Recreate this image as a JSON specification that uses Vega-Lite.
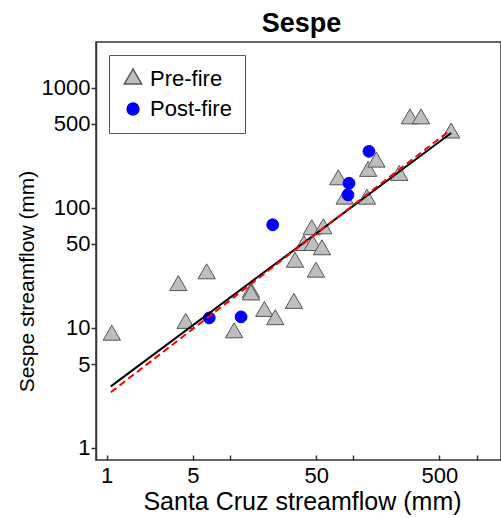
{
  "$schema": "https://vega.github.io/schema/vega-lite/v6.json",
  "autosize": {"type": "none"},
  "width": 405,
  "height": 418,
  "padding": {"left": 96, "top": 42, "right": 0, "bottom": 58},
  "background": "white",
  "title": {"text": "Sespe", "fontSize": 27, "fontWeight": "bold", "font": "Liberation Sans", "color": "black", "anchor": "middle", "frame": "group", "offset": 10, "baseline": "alphabetic", "dy": 27, "dx": 3},
  "config": {
    "view": {"stroke": "#333333", "strokeWidth": 1.5},
    "font": "Liberation Sans"
  },
  "datasets": {
    "points": [
      {"x": 1.10, "y": 8.7, "period": "Pre-fire"},
      {"x": 3.81, "y": 22.5, "period": "Pre-fire"},
      {"x": 6.47, "y": 28.2, "period": "Pre-fire"},
      {"x": 4.37, "y": 10.9, "period": "Pre-fire"},
      {"x": 10.8, "y": 9.1, "period": "Pre-fire"},
      {"x": 14.8, "y": 19.7, "period": "Pre-fire"},
      {"x": 14.8, "y": 18.8, "period": "Pre-fire"},
      {"x": 19.0, "y": 13.7, "period": "Pre-fire"},
      {"x": 23.3, "y": 11.7, "period": "Pre-fire"},
      {"x": 33.0, "y": 16.0, "period": "Pre-fire"},
      {"x": 33.7, "y": 35.2, "period": "Pre-fire"},
      {"x": 46.0, "y": 65.6, "period": "Pre-fire"},
      {"x": 57.1, "y": 66.8, "period": "Pre-fire"},
      {"x": 39.8, "y": 48.5, "period": "Pre-fire"},
      {"x": 46.9, "y": 48.5, "period": "Pre-fire"},
      {"x": 55.7, "y": 44.7, "period": "Pre-fire"},
      {"x": 49.8, "y": 29.1, "period": "Pre-fire"},
      {"x": 75.6, "y": 171, "period": "Pre-fire"},
      {"x": 85.2, "y": 118, "period": "Pre-fire"},
      {"x": 129, "y": 118, "period": "Pre-fire"},
      {"x": 132, "y": 201, "period": "Pre-fire"},
      {"x": 154, "y": 240, "period": "Pre-fire"},
      {"x": 236, "y": 186, "period": "Pre-fire"},
      {"x": 288, "y": 550, "period": "Pre-fire"},
      {"x": 354, "y": 550, "period": "Pre-fire"},
      {"x": 622, "y": 419, "period": "Pre-fire"},
      {"x": 134, "y": 295, "period": "Post-fire"},
      {"x": 92.3, "y": 160, "period": "Post-fire"},
      {"x": 90.6, "y": 128, "period": "Post-fire"},
      {"x": 22.2, "y": 72.2, "period": "Post-fire"},
      {"x": 6.79, "y": 12.1, "period": "Post-fire"},
      {"x": 12.3, "y": 12.35, "period": "Post-fire"}
    ],
    "fits": [
      {"fit": "solid", "x": 1.08, "y": 3.26},
      {"fit": "solid", "x": 622, "y": 419},
      {"fit": "dashed", "x": 1.08, "y": 2.91},
      {"fit": "dashed", "x": 608, "y": 441}
    ]
  },
  "layer": [
    {
      "data": {"name": "points"},
      "mark": {"type": "point", "filled": true, "opacity": 1, "strokeWidth": 1},
      "encoding": {
        "x": {
          "field": "x", "type": "quantitative",
          "scale": {"type": "log", "domain": [0.819, 1578], "nice": false},
          "axis": {
            "title": "Santa Cruz streamflow (mm)",
            "values": [1, 5, 10, 50, 100, 500, 1000],
            "format": "d",
            "labelExpr": "datum.value == 10 || datum.value == 100 || datum.value == 1000 ? '' : datum.label",
            "grid": false,
            "domain": false,
            "offset": -5,
            "tickSize": 5,
            "tickColor": "#333333", "tickWidth": 1.5,
            "labelFontSize": 22, "labelColor": "black", "labelPadding": 5,
            "labelFont": "Liberation Sans",
            "titleFontSize": 25, "titleFontWeight": "normal", "titleColor": "black",
            "titleFont": "Liberation Sans",
            "titleX": 206, "titleY": 54, "titleBaseline": "alphabetic", "titleAnchor": null, "titleAlign": "center"
          }
        },
        "y": {
          "field": "y", "type": "quantitative",
          "scale": {"type": "log", "domain": [0.7943, 2400], "nice": false},
          "axis": {
            "title": "Sespe streamflow (mm)",
            "values": [1, 5, 10, 50, 100, 500, 1000],
            "format": "d",
            "grid": false,
            "tickSize": 5,
            "tickColor": "#333333", "tickWidth": 1.5,
            "domainColor": "#333333", "domainWidth": 1.5,
            "labelFontSize": 22, "labelColor": "black", "labelPadding": 1,
            "labelFont": "Liberation Sans",
            "titleFontSize": 21, "titleFontWeight": "normal", "titleColor": "black",
            "titleFont": "Liberation Sans",
            "titleAngle": -90,
            "titleX": -63, "titleY": 239, "titleBaseline": "alphabetic", "titleAlign": "center"
          }
        },
        "shape": {
          "field": "period", "type": "nominal",
          "scale": {"domain": ["Pre-fire", "Post-fire"], "range": ["triangle", "circle"]},
          "legend": {
            "title": null, "orient": "none", "legendX": 13, "legendY": 13,
            "strokeColor": "#555555", "padding": 13, "labelFontSize": 22, "labelFont": "Liberation Sans",
            "labelColor": "black", "rowPadding": 8, "labelOffset": 6
          }
        },
        "fill": {
          "field": "period", "type": "nominal",
          "scale": {"domain": ["Pre-fire", "Post-fire"], "range": ["#bebebe", "#0000ff"]},
          "legend": {
            "title": null, "orient": "none", "legendX": 13, "legendY": 13,
            "strokeColor": "#555555", "padding": 13, "labelFontSize": 22, "labelFont": "Liberation Sans",
            "labelColor": "black", "rowPadding": 8, "labelOffset": 6
          }
        },
        "stroke": {
          "field": "period", "type": "nominal",
          "scale": {"domain": ["Pre-fire", "Post-fire"], "range": ["#555555", "#0000ff"]},
          "legend": {
            "title": null, "orient": "none", "legendX": 13, "legendY": 13,
            "strokeColor": "#555555", "padding": 13, "labelFontSize": 22, "labelFont": "Liberation Sans",
            "labelColor": "black", "rowPadding": 8, "labelOffset": 6
          }
        },
        "size": {
          "field": "period", "type": "nominal",
          "scale": {"domain": ["Pre-fire", "Post-fire"], "range": [300, 140]},
          "legend": {
            "title": null, "orient": "none", "legendX": 13, "legendY": 13,
            "strokeColor": "#555555", "padding": 13, "labelFontSize": 22, "labelFont": "Liberation Sans",
            "labelColor": "black", "rowPadding": 8, "labelOffset": 6
          }
        }
      }
    },
    {
      "data": {"name": "fits"},
      "transform": [{"filter": "datum.fit == 'solid'"}],
      "mark": {"type": "line", "color": "black", "strokeWidth": 2},
      "encoding": {
        "x": {"field": "x", "type": "quantitative"},
        "y": {"field": "y", "type": "quantitative"}
      }
    },
    {
      "data": {"name": "fits"},
      "transform": [{"filter": "datum.fit == 'dashed'"}],
      "mark": {"type": "line", "color": "#ff0000", "strokeWidth": 2, "strokeDash": [7, 4]},
      "encoding": {
        "x": {"field": "x", "type": "quantitative"},
        "y": {"field": "y", "type": "quantitative"}
      }
    }
  ]
}
